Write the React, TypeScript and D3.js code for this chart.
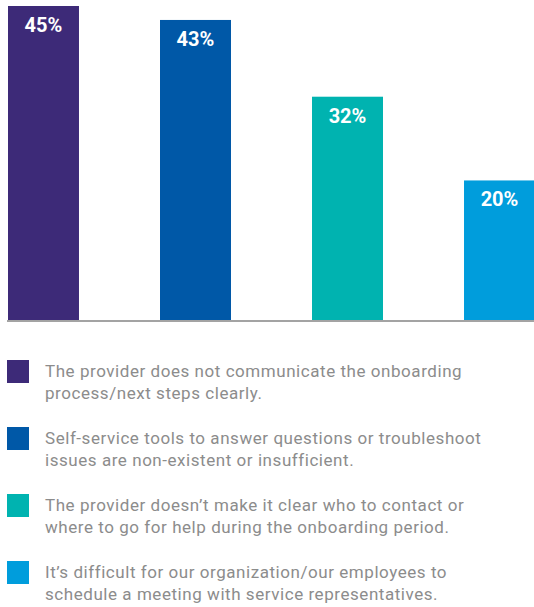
import * as d3 from 'd3'
import React from 'react'

const categories = ['communicate', 'selfService', 'contact', 'meeting']
const values = [45, 43, 32, 20]
const colors = ['#3d2a78', '#0058a7', '#00b3b0', '#009ddc']
const legendLines = [
  ['The provider does not communicate the onboarding', 'process/next steps clearly.'],
  ['Self-service tools to answer questions or troubleshoot', 'issues are non-existent or insufficient.'],
  ['The provider doesn\u2019t make it clear who to contact or', 'where to go for help during the onboarding period.'],
  ['It\u2019s difficult for our organization/our employees to', 'schedule a meeting with service representatives.'],
]

const W = 534
const H = 607
const baseY = 320

const App = () => {
  const x = d3.scaleBand<string>().domain(categories).range([8, 535]).paddingInner(0.533).paddingOuter(0).align(0)
  const y = d3.scaleLinear().domain([0, 45]).range([baseY, 6])
  const legendY = d3.scaleLinear().domain([0, 1]).range([360, 427])

  return (
    <svg width={W} height={H} style={{ position: 'absolute', left: 0, top: 0 }} fontFamily="Roboto, sans-serif">
      {values.map((v, i) => (
        <g key={categories[i]}>
          <rect x={x(categories[i])} y={y(v)} width={x.bandwidth()} height={baseY - y(v)} fill={colors[i]} />
          <text x={x(categories[i])! + x.bandwidth() / 2} y={y(v) + 26} textAnchor="middle" fill="#fff" fontWeight={700} fontSize={20}>
            {v}%
          </text>
        </g>
      ))}
      <line x1={7} x2={W} y1={baseY + 1} y2={baseY + 1} stroke="#a3a3a3" strokeWidth={2} />
      {legendLines.map((lines, i) => (
        <g key={i} transform={`translate(0 ${legendY(i)})`}>
          <rect x={7} y={0} width={22} height={23} fill={colors[i]} />
          {lines.map((t, j) => (
            <text key={j} x={45} y={17 + j * 22} fill="#8c8c8c" fontSize={17} letterSpacing={0.55}>
              {t}
            </text>
          ))}
        </g>
      ))}
    </svg>
  )
}

export default App
